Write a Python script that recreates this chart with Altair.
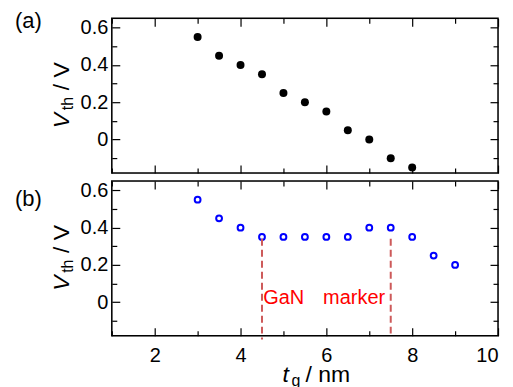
import altair as alt
import pandas as pd

# ---- data ----
tg_a = [3, 3.5, 4, 4.5, 5, 5.5, 6, 6.5, 7, 7.5, 8]
vth_a = [0.55, 0.45, 0.40, 0.35, 0.25, 0.20, 0.15, 0.05, 0.00, -0.10, -0.15]
tg_b = [3, 3.5, 4, 4.5, 5, 5.5, 6, 6.5, 7, 7.5, 8, 8.5, 9]
vth_b = [0.55, 0.45, 0.40, 0.35, 0.35, 0.35, 0.35, 0.35, 0.40, 0.40, 0.35, 0.25, 0.20]

marker_x = [4.5, 7.5]
marker_top = [0.34, 0.34]
marker_bottom = [-0.2, -0.18]
ann_words = ["GaN", "marker"]
ann_x = [4.53, 7.37]
ann_y = [-0.01, -0.01]

x_major = [2, 4, 6, 8, 10]
x_minor = [1, 3, 5, 7, 9]
y_major = [0, 0.2, 0.4, 0.6]
y_minor = [-0.1, 0.1, 0.3, 0.5]
x_domain = [1, 10]
y_domain = [-0.18, 0.65]

panel_tags = ["(a)", "(b)"]
ytitle_parts = ["V", "th", "/ V"]
xtitle_parts = ["t", "g", "/ nm"]

FONT = "Liberation Sans"
W, H = 387, 155
MAJ, MIN = 8, 5

xs = alt.Scale(domain=x_domain, nice=False, zero=False)
ys = alt.Scale(domain=y_domain, nice=False, zero=False)


def axis(orient, values, size, labels, pad=4, fmt=None, expr=None):
    kw = dict(orient=orient, values=values, tickSize=size, offset=-size,
              labels=labels, title=None, domain=False, grid=False,
              ticks=True, tickColor="black", tickWidth=1.2, minExtent=0,
              labelFont=FONT, labelFontSize=20, labelColor="black",
              labelPadding=pad)
    if fmt:
        kw["format"] = fmt
    if expr:
        kw["labelExpr"] = expr
    return alt.Axis(**kw)


YEXPR = "datum.value == 0 ? '0' : format(datum.value, '.1f')"


def frame_layers(df):
    base = alt.Chart(df).mark_point(opacity=0)
    l2 = base.encode(
        x=alt.X("x:Q", scale=xs, axis=axis("bottom", x_minor, MIN, False)),
        y=alt.Y("y:Q", scale=ys, axis=axis("left", y_minor, MIN, False)))
    l3 = base.encode(
        x=alt.X("x:Q", scale=xs, axis=axis("top", x_major, MAJ, False)),
        y=alt.Y("y:Q", scale=ys, axis=axis("right", y_major, MAJ, False)))
    l4 = base.encode(
        x=alt.X("x:Q", scale=xs, axis=axis("top", x_minor, MIN, False)),
        y=alt.Y("y:Q", scale=ys, axis=axis("right", y_minor, MIN, False)))
    box = alt.Chart(pd.DataFrame({"k": [0]})).mark_rect(
        fillOpacity=0, stroke="black", strokeWidth=1.5).encode(
        x=alt.value(0), x2=alt.value(W), y=alt.value(0), y2=alt.value(H))
    return [l2, l3, l4, box]


def ytitle():
    parts = []
    specs = [(ytitle_parts[0], 23, "italic", -43, 110),
             (ytitle_parts[1], 16, "normal", -39, 92),
             (ytitle_parts[2], 23, "normal", -43, 72)]
    for txt, fs, style, px, py in specs:
        parts.append(alt.Chart(pd.DataFrame({"t": [txt]})).mark_text(
            angle=270, align="left", baseline="alphabetic", font=FONT,
            fontSize=fs, fontStyle=style, color="black")
            .encode(text="t:N", x=alt.value(px), y=alt.value(py)))
    return parts


def panel(idx, df, point_mark, extra=None, xlabels=False):
    main = point_mark.encode(
        x=alt.X("x:Q", scale=xs, axis=axis("bottom", x_major, MAJ, xlabels, pad=10, fmt="d")),
        y=alt.Y("y:Q", scale=ys, axis=axis("left", y_major, MAJ, True, pad=4, expr=YEXPR)))
    layers = [main] + frame_layers(df)
    if extra:
        layers += extra
    layers += ytitle()
    tag_y = 3 if idx == 0 else 18
    layers.append(alt.Chart(pd.DataFrame({"t": [panel_tags[idx]]})).mark_text(
        align="left", baseline="middle", font=FONT, fontSize=22, color="black")
        .encode(text="t:N", x=alt.value(-97), y=alt.value(tag_y)))
    return alt.layer(*layers).resolve_axis(x="independent", y="independent").properties(width=W, height=H)


df_a = pd.DataFrame({"x": tg_a, "y": vth_a})
df_b = pd.DataFrame({"x": tg_b, "y": vth_b})

pts_a = alt.Chart(df_a).mark_point(filled=True, color="black", size=64, opacity=1)
pts_b = alt.Chart(df_b).mark_point(filled=False, color="#0000ff", size=34, strokeWidth=2, opacity=1)

df_rule = pd.DataFrame({"x": marker_x, "y": marker_top, "y2": marker_bottom})
rules = alt.Chart(df_rule).mark_rule(color="#cd5a5a", strokeWidth=2, strokeDash=[7, 4]).encode(
    x=alt.X("x:Q", scale=xs, axis=None),
    y=alt.Y("y:Q", scale=ys, axis=None),
    y2="y2:Q")

df_ann = pd.DataFrame({"x": ann_x, "y": ann_y, "t": ann_words})
ann_left = alt.Chart(df_ann.iloc[[0]]).mark_text(align="left", baseline="alphabetic", font=FONT,
                                                 fontSize=20, color="#ff0000").encode(
    x=alt.X("x:Q", scale=xs, axis=None), y=alt.Y("y:Q", scale=ys, axis=None), text="t:N")
ann_right = alt.Chart(df_ann.iloc[[1]]).mark_text(align="right", baseline="alphabetic", font=FONT,
                                                  fontSize=20, color="#ff0000").encode(
    x=alt.X("x:Q", scale=xs, axis=None), y=alt.Y("y:Q", scale=ys, axis=None), text="t:N")

xt = []
for txt, fs, style, px, py in [(xtitle_parts[0], 23, "italic", 171, 201),
                               (xtitle_parts[1], 16, "normal", 180, 205),
                               (xtitle_parts[2], 23, "normal", 194, 201)]:
    xt.append(alt.Chart(pd.DataFrame({"t": [txt]})).mark_text(
        align="left", baseline="alphabetic", font=FONT, fontSize=fs, fontStyle=style, color="black")
        .encode(text="t:N", x=alt.value(px), y=alt.value(py)))

top = panel(0, df_a, pts_a)
bottom = panel(1, df_b, pts_b, extra=[rules, ann_left, ann_right] + xt, xlabels=True)

chart = alt.vconcat(top, bottom, spacing=4).properties(
    padding={"left": 6, "top": 1, "right": 5, "bottom": 0}
).configure_view(stroke=None).configure(background="white")

chart.save("out.html", embed_options={"renderer": "svg", "actions": False})
